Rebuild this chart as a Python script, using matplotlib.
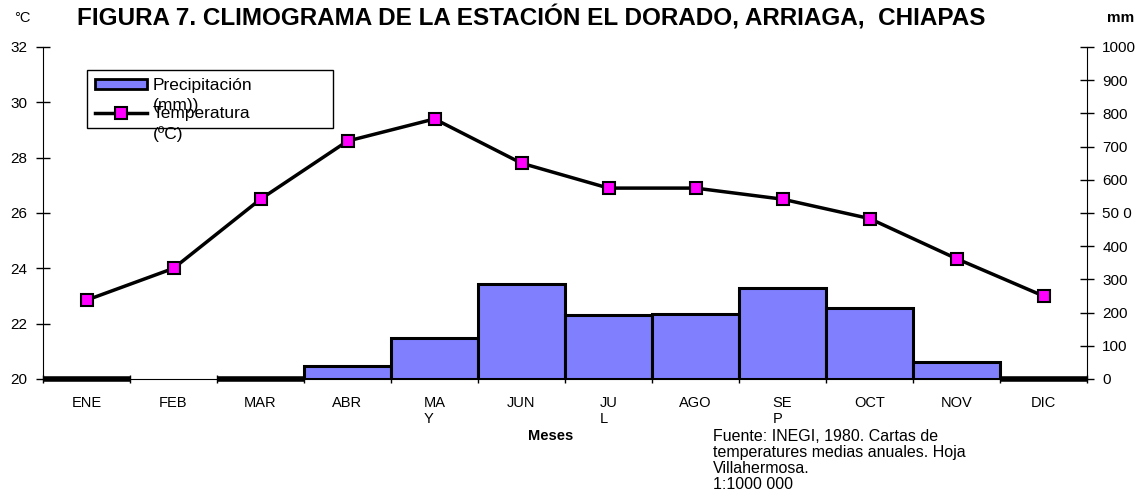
import numpy as np
import matplotlib
matplotlib.use("Agg")
import matplotlib.pyplot as plt
from matplotlib.patches import Rectangle
from matplotlib.lines import Line2D

plt.rcParams['font.family'] = ['Liberation Sans', 'DejaVu Sans']

meses = ['ENE', 'FEB', 'MAR', 'ABR', 'MA\nY', 'JUN', 'JU\nL', 'AGO', 'SE\nP', 'OCT', 'NOV', 'DIC']
temperatura = [22.85, 24.0, 26.5, 28.6, 29.4, 27.8, 26.9, 26.9, 26.5, 25.8, 24.35, 23.0]
precipitacion = [0, np.nan, 0, 39, 123, 287, 192, 197, 275, 215, 50, 0]
temp_ticks = [20, 22, 24, 26, 28, 30, 32]
prec_ticks = [0, 100, 200, 300, 400, 500, 600, 700, 800, 900, 1000]
prec_labels = ['0', '100', '200', '300', '400', '50 0', '600', '700', '800', '900', '1000']

W, H = 1144, 499


def fx(x):
    return x / W


def fy(y):
    return 1 - y / H


fig = plt.figure(figsize=(W / 100, H / 100), dpi=100)
ax = fig.add_axes([fx(43), fy(379), fx(1087) - fx(43), fy(47) - fy(379)])
ax2 = ax.twinx()
ax.set_zorder(ax2.get_zorder() + 1)
ax.patch.set_visible(False)

x = np.arange(len(meses))
prec = np.array(precipitacion, dtype=float)
ok = ~np.isnan(prec)
ax2.bar(x[ok], prec[ok], width=1.0, color='#8080ff', edgecolor='black', linewidth=2.2)
# zero-valued months show up as a thick line on the base
zero = ok & (np.nan_to_num(prec, nan=-1) == 0)
ax2.hlines(np.zeros(zero.sum()), x[zero] - 0.5, x[zero] + 0.5, color='black', lw=4,
           clip_on=False, zorder=3)
ax2.set_ylim(0, 1000)
ax2.set_yticks(prec_ticks)
ax2.set_yticklabels(prec_labels)

ax.plot(x, temperatura, color='black', lw=2.5, marker='s', markersize=8,
        markerfacecolor='#ff00ff', markeredgecolor='black', markeredgewidth=1.5)
ax.set_ylim(20, 32)
ax.set_yticks(temp_ticks)
ax.set_xlim(-0.5, len(meses) - 0.5)

# ticks on the month boundaries, labels in the middle
ax.set_xticks(np.arange(len(meses) + 1) - 0.5)
ax.set_xticklabels([])
ax.set_xticks(x, minor=True)
ax.set_xticklabels(meses, minor=True, fontsize=10.5, multialignment='left', va='top')
ax.tick_params(axis='x', which='minor', length=0, pad=12)
ax.tick_params(axis='x', which='major', length=6, direction='inout', width=1)

for a in (ax, ax2):
    for s in a.spines.values():
        s.set_visible(False)
ax.spines['left'].set_visible(True)
ax2.spines['right'].set_visible(True)
ax.spines['bottom'].set_visible(True)
ax.spines['bottom'].set_linewidth(0.8)
ax.tick_params(axis='y', direction='inout', length=10, width=1, labelsize=11, pad=6)
ax2.tick_params(axis='y', direction='inout', length=10, width=1, labelsize=11, pad=6)

# titles and notes
fig.text(fx(531), fy(18), 'FIGURA 7. CLIMOGRAMA DE LA ESTACIÓN EL DORADO, ARRIAGA,  CHIAPAS',
         ha='center', va='center', fontsize=17.5, fontweight='bold')
fig.text(fx(22), fy(18), '°C', ha='center', va='center', fontsize=10.5)
fig.text(fx(1121), fy(18), 'mm', ha='center', va='center', fontsize=11, fontweight='bold')
fig.text(fx(551), fy(436), 'Meses', ha='center', va='center', fontsize=10.5, fontweight='bold')
fig.text(fx(713), fy(429), 'Fuente: INEGI, 1980. Cartas de\ntemperatures medias anuales. Hoja\n'
         'Villahermosa.\n1:1000 000', ha='left', va='top', fontsize=11.5, linespacing=1.08)

# legend box drawn by hand (overlapping labels as in the original)
fig.patches.append(Rectangle((fx(87), fy(128)), fx(333) - fx(87), fy(70) - fy(128),
                             transform=fig.transFigure, facecolor='white', edgecolor='black',
                             lw=1, zorder=5))
fig.patches.append(Rectangle((fx(95), fy(89)), fx(147) - fx(95), fy(79) - fy(89),
                             transform=fig.transFigure, facecolor='#8080ff', edgecolor='black',
                             lw=2, zorder=6))
fig.lines.append(Line2D([fx(95), fx(147)], [fy(113), fy(113)], transform=fig.transFigure,
                        color='black', lw=2.5, zorder=6))
fig.lines.append(Line2D([fx(121)], [fy(113)], transform=fig.transFigure, marker='s',
                        markersize=8, markerfacecolor='#ff00ff', markeredgecolor='black',
                        markeredgewidth=1.5, zorder=7))
fig.text(fx(153), fy(78), 'Precipitación\n(mm))', ha='left', va='top', fontsize=12.5,
         linespacing=1.38, zorder=8)
fig.text(fx(153), fy(106), 'Temperatura\n(ºC)', ha='left', va='top', fontsize=12.5,
         linespacing=1.38, zorder=8)

fig.savefig('out.png', dpi=100)
